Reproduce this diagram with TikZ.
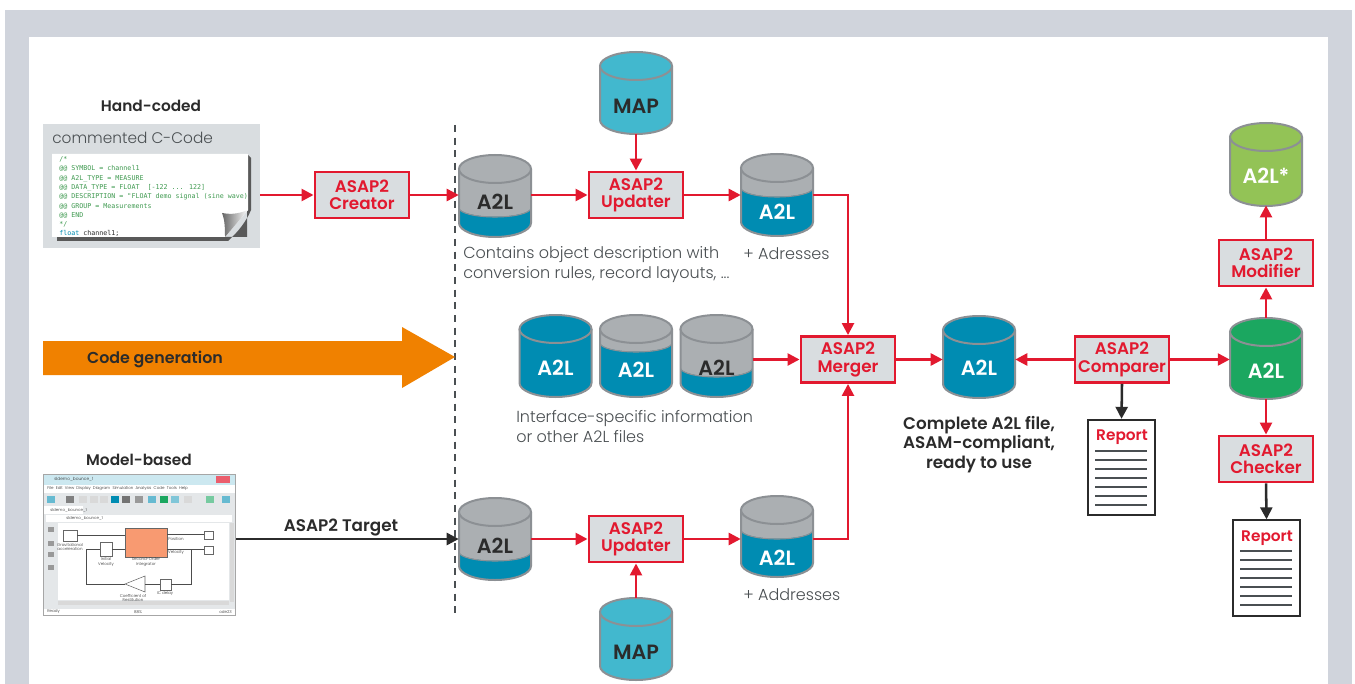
\documentclass[tikz,border=0pt]{standalone}
\usepackage{fontspec}
\setmainfont{Poppins}[UprightFont=* Light,BoldFont=* SemiBold]
\newfontfamily\monof{DejaVu Sans Mono}
\usetikzlibrary{arrows.meta,calc}
\definecolor{panel}{HTML}{D0D4DC}
\definecolor{asapred}{HTML}{E2192F}
\definecolor{boxgrey}{HTML}{D9DDE0}
\definecolor{cylgrey}{HTML}{ABAFB2}
\definecolor{cyledge}{HTML}{8C9094}
\definecolor{a2lblue}{HTML}{008CB2}
\definecolor{mapteal}{HTML}{42B8CE}
\definecolor{a2lgreen}{HTML}{1BA760}
\definecolor{a2llime}{HTML}{93C356}
\definecolor{inkdark}{HTML}{2B2B2B}
\definecolor{txtgrey}{HTML}{4A4F52}
\definecolor{codegreen}{HTML}{3F9A50}
\definecolor{genorange}{HTML}{F08100}
\tikzset{
  asapbox/.style={draw=asapred,line width=2.2pt,fill=boxgrey,text=asapred,font=\fontsize{12.6}{13}\selectfont\bfseries,align=center,minimum width=70.5pt,minimum height=34.5pt,inner sep=0pt},
  redarrow/.style={draw=asapred,line width=1.9pt,-{Triangle[length=9pt,width=9pt]}},
  blackarrow/.style={draw=inkdark,line width=1.9pt,-{Triangle[length=9pt,width=9pt]}},
  caption/.style={text=txtgrey,font=\fontsize{12}{15}\selectfont,align=left,inner sep=0pt},
  heading/.style={text=inkdark,font=\fontsize{11.5}{14.6}\selectfont\bfseries,align=center,inner sep=0pt},
  bigheading/.style={text=inkdark,font=\fontsize{12.6}{14.6}\selectfont\bfseries,align=center,inner sep=0pt},
  cylhold/.style={inner sep=0pt,minimum width=54pt,minimum height=61pt,font=\fontsize{15.5}{16}\selectfont\bfseries},
  reportbox/.style={draw=inkdark,line width=1.5pt,fill=white,minimum width=50.5pt,minimum height=71.5pt,inner sep=0pt},
  reportline/.style={draw=txtgrey,line width=1.3pt},
  reporttitle/.style={inner sep=0pt,text=asapred,font=\fontsize{11.5}{12}\selectfont\bfseries},
  scrtext/.style={inner sep=0pt,font=\fontsize{3}{3.5}\selectfont,text=inkdark,align=center},
  scrblock/.style={draw=black!60,line width=0.4pt,fill=white},
}
% #1 name, #2 left x, #3 top y, #4 bottom y, #5 top colour, #6 y where the lower colour starts, #7 lower colour
\newcommand{\cyl}[7]{%
  \pgfmathsetmacro{\cR}{#2+72}%
  \pgfmathsetmacro{\cM}{#2+36}%
  \pgfmathsetmacro{\cMid}{(#3+#4)/2}%
  \path[fill=#5] (#2,#3+14) -- (#2,#4-14) arc[x radius=36,y radius=14,start angle=180,end angle=0] -- (\cR,#3+14) -- cycle;
  \begin{scope}
    \clip (#2,#3+14) -- (#2,#4-14) arc[x radius=36,y radius=14,start angle=180,end angle=0] -- (\cR,#3+14) -- cycle;
    \draw[#7,fill=#7] (#2,#6) arc[x radius=36,y radius=9,start angle=180,end angle=0] -- (\cR,#4+1) -- (#2,#4+1) -- cycle;
    \draw[cyledge,line width=0.8pt] (#2,#6) arc[x radius=36,y radius=9,start angle=180,end angle=0];
  \end{scope}
  \draw[cyledge,line width=1.5pt] (#2,#3+14) -- (#2,#4-14) arc[x radius=36,y radius=14,start angle=180,end angle=0] -- (\cR,#3+14);
  \draw[cyledge,fill=#5,line width=1.5pt] (\cM,#3+14) ellipse[x radius=36,y radius=14];
  \node[cylhold] (#1) at (\cM,\cMid) {};
}
% #1 colour, #2 cylinder, #3 y, #4 text
\newcommand{\cyltext}[4]{\node[cylhold,text=#1] at (#2 |- 0,#3) {#4};}
\newcommand{\reportlines}[3]{%
  \foreach \k in {0,...,6} {\draw[reportline] (#1,#2+\k*9) -- (#3,#2+\k*9);}%
}
\begin{document}
\begin{tikzpicture}[x=0.75pt,y=-0.75pt]
\useasboundingbox (0,0) rectangle (1355,684);
\fill[white] (0,0) rectangle (1355,684);
\fill[panel] (5,10) rectangle (1352,684);
\fill[white] (29,37) rectangle (1328,684);

% divider
\draw[txtgrey,line width=1.5pt,dash pattern=on 5.3pt off 4.2pt] (455,125) -- (455,616);

% orange arrow
\fill[genorange] (43,341) -- (402,341) -- (402,327) -- (455,357) -- (402,388) -- (402,375) -- (43,375) -- cycle;
\node[heading,font=\fontsize{11.9}{14}\selectfont\bfseries] (gen) at (155,359.5) {Code generation};

% hand-coded
\node[heading] (hand) at (151,106) {Hand-coded};
\fill[boxgrey] (43,124) rectangle (260,248);
\node[anchor=west,inner sep=0pt,text=txtgrey,font=\fontsize{11.5}{15}\selectfont] (cc) at (52,138) {commented C-Code};
\fill[black!65] (57,241) -- (228,241) .. controls (238,232) and (246,222) .. (251,210) -- (251,158) -- (247,154) -- (247,237) -- (57,237) -- cycle;
\fill[white] (52,154) -- (248,154) -- (248,210) -- (225,237) -- (52,237) -- cycle;
\shade[left color=black!60,right color=white] (248,210) .. controls (236,215) and (228,214) .. (222,213) .. controls (225,220) and (225,230) .. (225,237) -- cycle;
\node[anchor=north west,inner sep=0pt,align=left,text=codegreen,font=\monof\fontsize{5}{6.95}\selectfont] (code) at (59,156.5) {/*\\@@ SYMBOL = channel1\\@@ A2L\_TYPE = MEASURE\\@@ DATA\_TYPE = FLOAT~ [-122 ... 122]\\@@ DESCRIPTION = "FLOAT demo signal (sine wave)\\@@ GROUP = Measurements\\@@ END\\*/\\\textcolor{a2lblue}{float} \textcolor{inkdark}{channel1;}};

% model-based
\node[heading] (model) at (139,460) {Model-based};
\fill[black!35] (43,474) rectangle (236,616);
\fill[boxgrey!70] (44,475) rectangle (235,615);
\fill[a2lblue!20] (44,475) rectangle (235,485);
\fill[asapred!70] (216,476) rectangle (230,483);
\fill[white] (44,485) rectangle (235,493);
\fill[white] (44,506) rectangle (83,514);
\fill[white] (46,515) rectangle (232,522);
\fill[white] (58,523) rectangle (229,600);
\fill[white] (44,609) rectangle (235,615);
\fill[black!15] (230,523) rectangle (234,602);
\fill[black!15] (58,601) rectangle (229,605);
\node[anchor=west,inner sep=0pt,font=\fontsize{3.2}{4}\selectfont,text=inkdark] (mt) at (54,479.5) {sldemo\_bounce\_1};
\node[anchor=west,inner sep=0pt,font=\fontsize{3}{4}\selectfont,text=inkdark] (mm) at (47,489) {File~~Edit~~View~~Display~~Diagram~~Simulation~~Analysis~~Code~~Tools~~Help};
\node[anchor=west,inner sep=0pt,font=\fontsize{3}{4}\selectfont,text=inkdark] (mtb) at (50,510) {sldemo\_bounce\_1};
\node[anchor=west,inner sep=0pt,font=\fontsize{3}{4}\selectfont,text=inkdark] (mp) at (66,518.5) {sldemo\_bounce\_1};
\foreach \ix/\ic in {47/a2lblue!60,66/black!50,79/black!15,90/black!15,100/black!15,111/a2lblue,122/black!55,135/black!40,148/a2lblue!60,160/a2lgreen,171/a2lblue!50,184/black!15,206/a2lgreen!60,222/a2lblue!60} {\fill[\ic] (\ix,496) rectangle ++(8,7);}
\foreach \iy in {527,541,552,565} {\fill[black!40] (48,\iy) rectangle ++(6,5);}
\draw[scrblock] (63,530) rectangle (77,541);
\draw[scrblock] (100,542) rectangle (112,556);
\draw[scrblock,fill=orange!60!asapred!60] (125,528) rectangle (167,557);
\draw[scrblock] (204,531) rectangle (213,539);
\draw[scrblock] (204,546) rectangle (213,554);
\draw[scrblock] (160,579) rectangle (171,590);
\draw[scrblock] (145,576) -- (125,584) -- (145,592) -- cycle;
\draw[black!70,line width=0.4pt] (77,535) -- (125,535) (112,549) -- (125,549) (167,534) -- (204,534) (167,549) -- (204,549) (191,549) -- (191,584) -- (171,584) (160,584) -- (145,584) (125,584) -- (86,584) -- (86,549) -- (100,549);
\node[scrtext] (m1) at (70,547) {Gravitational\\acceleration};
\node[scrtext] (m2) at (106,562) {Initial\\Velocity};
\node[scrtext] (m3) at (146,562) {Second-Order\\Integrator};
\node[scrtext] (m4) at (133,598) {Coefficient of\\Restitution};
\node[scrtext] (m5) at (165,594) {IC delay};
\node[scrtext] (m6) at (176,539) {Position};
\node[scrtext] (m7) at (176,553) {Velocity};
\node[scrtext,anchor=west] (m8) at (47,612) {Ready};
\node[scrtext] (m9) at (138,612) {88\%};
\node[scrtext,anchor=east] (m10) at (232,612) {ode23};
\coordinate (modelout) at (236,539);

% cylinders
\cyl{mapT}{600}{52}{134}{mapteal}{300}{mapteal}
\cyl{aOne}{459}{155}{237}{cylgrey}{208}{a2lblue}
\cyl{aTwo}{741}{154}{236}{cylgrey}{188}{a2lblue}
\cyl{mA}{519.5}{315}{397}{a2lblue}{500}{a2lblue}
\cyl{mB}{600}{315}{397}{cylgrey}{343}{a2lblue}
\cyl{mC}{680.5}{315}{397}{cylgrey}{368}{a2lblue}
\cyl{full}{943}{316}{398}{a2lblue}{500}{a2lblue}
\cyl{green}{1230}{318}{399}{a2lgreen}{500}{a2lgreen}
\cyl{lime}{1230}{123}{206}{a2llime}{300}{a2llime}
\cyl{bOne}{459}{498}{580}{cylgrey}{552}{a2lblue}
\cyl{bTwo}{741}{496}{577}{cylgrey}{530}{a2lblue}
\cyl{mapB}{600}{598}{680}{mapteal}{800}{mapteal}
\cyltext{inkdark}{mapT}{106}{MAP}
\cyltext{inkdark}{aOne}{202}{A2L}
\cyltext{white}{aTwo}{212}{A2L}
\cyltext{white}{mA}{368}{A2L}
\cyltext{white}{mB}{370}{A2L}
\cyltext{inkdark}{mC}{368}{A2L}
\cyltext{white}{full}{368}{A2L}
\cyltext{white}{green}{371}{A2L}
\cyltext{white}{lime}{176}{A2L*}
\cyltext{inkdark}{bOne}{546}{A2L}
\cyltext{white}{bTwo}{558}{A2L}
\cyltext{inkdark}{mapB}{652}{MAP}

% tool boxes
\node[asapbox] (creator) at (362,195) {ASAP2\\Creator};
\node[asapbox] (upA) at (636,195) {ASAP2\\Updater};
\node[asapbox] (upB) at (636,539) {ASAP2\\Updater};
\node[asapbox] (merger) at (848,359.5) {ASAP2\\Merger};
\node[asapbox] (comparer) at (1122,359.5) {ASAP2\\Comparer};
\node[asapbox] (modifier) at (1266,263) {ASAP2\\Modifier};
\node[asapbox] (checker) at (1266,459) {ASAP2\\Checker};

% reports
\node[reportbox] (repA) at (1121.5,467.5) {};
\node[reporttitle] (repAt) at (1122,437) {Report};
\reportlines{1095}{451}{1147}
\node[reportbox] (repB) at (1266.5,568) {};
\node[reporttitle] (repBt) at (1267,538) {Report};
\reportlines{1240}{551}{1292}

% captions
\node[caption,anchor=north west] (c1) at (463,246) {Contains object description with\\conversion rules, record layouts, ...};
\node[caption,anchor=west] (c2) at (743,253.5) {+ Adresses};
\node[caption,anchor=north west] (c3) at (516,410) {Interface-specific information\\or other A2L files};
\node[caption,anchor=west] (c4) at (743,594.5) {+ Addresses};
\node[bigheading,anchor=north] (c5) at (979,416) {Complete A2L file,\\ASAM-compliant,\\ready to use};
\node[bigheading] (c6) at (341,528) {ASAP2 Target};

% connectors
\draw[redarrow] (260,195) -- (creator.west);
\draw[redarrow] (creator.east) -- (creator.east -| aOne.west);
\draw[redarrow] (upA.west -| aOne.east) -- (upA.west);
\draw[redarrow] (mapT.south) -- (upA.north);
\draw[redarrow] (upA.east) -- (upA.east -| aTwo.west);
\draw[redarrow] (upA.east -| aTwo.east) -| (merger.north);
\draw[redarrow] (merger.west -| mC.east) -- (merger.west);
\draw[redarrow] (upB.east -| bTwo.east) -| (merger.south);
\draw[redarrow] (merger.east) -- (merger.east -| full.west);
\draw[redarrow] (comparer.west) -- (comparer.west -| full.east);
\draw[redarrow] (comparer.east) -- (comparer.east -| green.west);
\draw[redarrow] (green.north) -- (modifier.south);
\draw[redarrow] (modifier.north) -- (lime.south);
\draw[redarrow] (green.south) -- (checker.north);
\draw[blackarrow] (checker.south) -- (repB.north);
\draw[blackarrow] (comparer.south) -- (repA.north);
\draw[blackarrow] (modelout) -- (modelout -| bOne.west);
\draw[redarrow] (upB.west -| bOne.east) -- (upB.west);
\draw[redarrow] (upB.east) -- (upB.east -| bTwo.west);
\draw[redarrow] (mapB.north) -- (upB.south);
\end{tikzpicture}
\end{document}
